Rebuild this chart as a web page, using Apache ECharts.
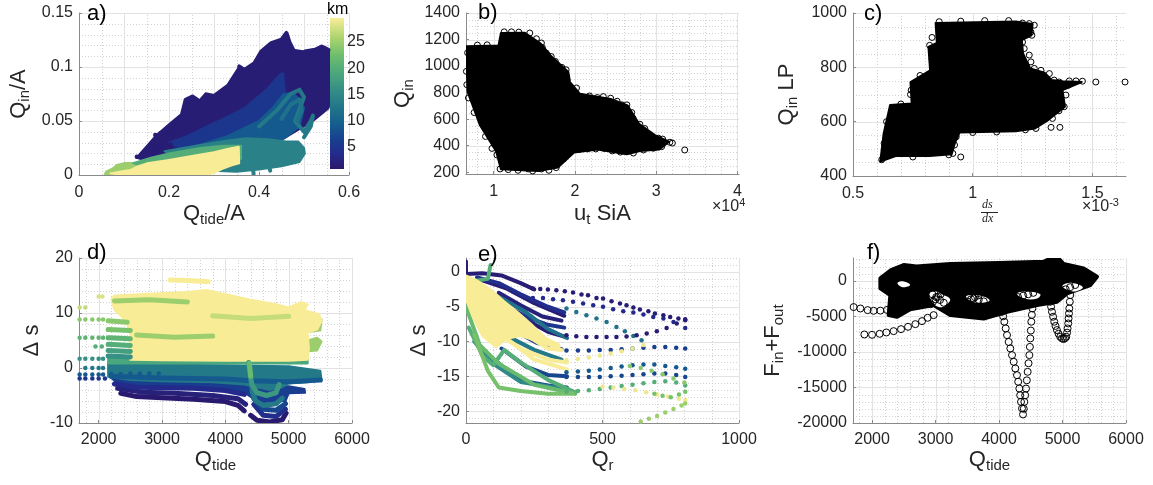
<!DOCTYPE html>
<html><head><meta charset="utf-8">
<script src="https://cdn.jsdelivr.net/npm/echarts@6/dist/echarts.min.js"></script>
<style>html,body{margin:0;padding:0;background:#fff}#c{width:1153px;height:485px}</style>
</head><body><div id="c"></div><script>
const FONT = '"Liberation Sans", Arial, Helvetica, sans-serif';
const TXT = '#262626';
const AX = '#8a8a8a';

// ---------- colour scale (km) ----------
const cbRange = [0.7, 29.6];
const cbTicks = [5, 10, 15, 20, 25];
const halineStops = [[0,'#2a186c'],[0.1,'#232b8c'],[0.2,'#17418f'],[0.3,'#155e8e'],[0.42,'#237889'],[0.52,'#348e86'],[0.63,'#4aa67d'],[0.75,'#6cbd6c'],[0.87,'#acd46e'],[1,'#fbed98']];

// ---------- panel a : Q_in/A vs Q_tide/A, coloured by km ----------
const aTicksX = [0, 0.2, 0.4, 0.6];
const aTicksY = [0, 0.05, 0.1, 0.15];
const aRegions = [
  {km:1.5, pts:[[0.128,0.016],[0.17,0.036],[0.2,0.047],[0.2295,0.0572],[0.237,0.0696],[0.252,0.0727],[0.2667,0.0687],[0.2817,0.0758],[0.30,0.0742],[0.33,0.0835],[0.356,0.1005],[0.3675,0.0974],[0.39,0.1036],[0.405,0.1144],[0.4274,0.1222],[0.4498,0.1253],[0.461,0.1315],[0.4684,0.1222],[0.476,0.116],[0.502,0.1144],[0.5244,0.116],[0.5394,0.119],[0.5544,0.116],[0.565,0.112],[0.565,0.075],[0.554,0.0617],[0.52,0.05],[0.46,0.035],[0.4,0.02],[0.33,0.008],[0.26,0.004],[0.2,0.01],[0.16,0.012]]},
  {km:5, pts:[[0.2,0.03],[0.2407,0.0359],[0.28,0.044],[0.315,0.051],[0.3675,0.0619],[0.42,0.0804],[0.446,0.0928],[0.4536,0.0943],[0.457,0.0773],[0.4423,0.0464],[0.42,0.036],[0.38,0.026],[0.3,0.02],[0.24,0.022]]},
  {km:9, pts:[[0.26,0.027],[0.33,0.036],[0.4,0.05],[0.43,0.062],[0.455,0.075],[0.475,0.076],[0.49,0.07],[0.5,0.062],[0.49,0.045],[0.46,0.035],[0.42,0.025],[0.35,0.018]]},
  {km:14, pts:[[0.19,0.022],[0.26,0.027],[0.33,0.032],[0.37,0.034],[0.42,0.033],[0.46,0.031],[0.487,0.031],[0.5,0.025],[0.502,0.02],[0.49,0.012],[0.45,0.008],[0.4,0.005],[0.35,0.003],[0.3,0.004],[0.26,0.008],[0.22,0.015]]},
  {km:25, pts:[[0.057,0.0],[0.06,0.003],[0.075,0.006],[0.084,0.0093],[0.1,0.011],[0.12,0.011],[0.14,0.012],[0.14,0.0]]},
  {km:20, pts:[[0.12,0.011],[0.16,0.016],[0.2,0.02],[0.24,0.023],[0.27,0.025],[0.32,0.027],[0.36,0.027],[0.36,0.015],[0.24,0.012],[0.14,0.008]]},
  {km:29.5, pts:[[0.07,0.0015],[0.09,0.003],[0.114,0.0046],[0.13,0.008],[0.151,0.0108],[0.2,0.014],[0.241,0.017],[0.3,0.021],[0.33,0.024],[0.355,0.0262],[0.356,0.0108],[0.34,0.009],[0.32,0.006],[0.3,0.002],[0.2855,0.0],[0.1,0.0]]}
];
const aLines = [
  {km:13, pts:[[0.40,0.045],[0.44,0.06],[0.47,0.075],[0.49,0.079],[0.5,0.072],[0.48,0.05],[0.5,0.04],[0.515,0.05],[0.52,0.055],[0.515,0.045],[0.5,0.035]]},
  {km:12, pts:[[0.45,0.052],[0.47,0.065],[0.49,0.07],[0.495,0.06],[0.485,0.05]]},
  {km:14, pts:[[0.385,0.012],[0.388,0.001]]},
  {km:14, pts:[[0.42,0.012],[0.425,0.004]]},
  {km:1.5, pts:[[0.2295,0.0572],[0.237,0.0696],[0.252,0.0727],[0.2667,0.0687],[0.258,0.063]]},
  {km:1.5, pts:[[0.356,0.1005],[0.3675,0.0974],[0.39,0.1036],[0.405,0.1144],[0.4274,0.1222],[0.4498,0.1253],[0.461,0.1315],[0.4684,0.1222],[0.476,0.116],[0.47,0.105]]},
  {km:1.5, pts:[[0.502,0.1144],[0.5244,0.116],[0.5394,0.119],[0.5544,0.116],[0.545,0.105]]}
];
const aDots = [[0.1286,0.017,1.5],[0.1398,0.0186,1.5],[0.151,0.0207,1.5],[0.1622,0.0223,1.5],[0.1735,0.0241,1.5],[0.1883,0.0263,1.5],[0.2033,0.0285,1.5],
  [0.1696,0.0371,1.5],[0.1808,0.0387,1.5],[0.192,0.0408,1.5],[0.2033,0.0427,1.5],[0.2145,0.0448,1.5]];

// ---------- panel b : Q_in vs u_t SiA (x in units of 1e4) ----------
const bTicksX = [1, 2, 3, 4];
const bTicksY = [200, 400, 600, 800, 1000, 1200, 1400];
const bCloud = [[0.663,1150],[1.06,1156],[1.09,1250],[1.38,1252],[1.43,1232],[1.58,1170],[1.70,1080],[1.92,955],[1.94,880],[2.06,792],[2.44,752],[2.65,703],[2.79,566],[2.99,478],[3.16,430],[3.04,372],[2.8,360],[2.64,336],[2.28,372],[1.99,348],[1.79,235],[1.55,210],[1.09,222],[1.03,358],[0.83,557],[0.68,805],[0.665,1060]];
const bEdge = [[1.445,1249],[1.527,1206],[1.588,1174],[1.648,1098],[1.709,1072],[1.892,972],[1.892,909],[1.993,796],[2.074,771],[2.277,763],[2.44,758],[2.58,708],[2.64,708],[2.48,632],[2.715,607],[2.80,562],[2.926,481],[3.027,457],[3.169,426],[3.068,393],[2.966,381],[2.844,368],[2.46,361],[2.257,376],[2.156,376],[1.953,419],[1.77,306],[1.77,235],[1.588,225],[1.426,225],[1.08,225],[1.04,331],[3.352,368],
  [1.13,1258],[1.22,1258],[1.31,1256],[1.60,1140],[1.76,1035],[1.84,990],[2.02,835],[2.18,775],[2.35,770],[2.52,735],[2.70,650],[2.86,530],[3.08,450],[3.20,420],[2.72,345],[2.56,352],[2.36,380],[2.05,372],[1.86,300],[1.68,215],[1.48,210],[1.30,215],[1.18,220],[0.98,380],[0.90,470],[0.76,650],[0.69,760],[0.67,860],[0.665,960],[0.68,1100],[0.80,1158],[0.92,1160]];

// ---------- panel c : Q_in LP vs ds/dx (x in units of 1e-3) ----------
const cTicksX = [0.5, 1, 1.5];
const cTicksY = [400, 600, 800, 1000];
const cCloud = [[0.845,963],[1.18,969],[1.25,960],[1.245,918],[1.205,900],[1.21,851],[1.24,796],[1.30,780],[1.33,753],[1.375,749],[1.455,746],[1.375,716],[1.385,655],[1.315,606],[1.26,575],[1.18,565],[0.945,560],[0.925,520],[0.912,480],[0.82,474],[0.681,474],[0.614,453],[0.628,557],[0.655,661],[0.745,667],[0.74,746],[0.822,789],[0.815,875],[0.85,890]];
const cEdge = [[1.208,963],[1.236,961],[1.257,955],[1.243,930],[1.247,918],[1.208,893],[1.215,869],[1.195,851],[1.236,845],[1.243,820],[1.257,796],[1.285,789],[1.32,777],[1.34,753],[1.361,746],[1.403,750],[1.431,750],[1.458,749],[1.514,746],[1.636,746],[1.389,698],[1.382,655],[1.333,612],[1.327,579],[1.364,579],[1.264,575],[0.931,544],[0.924,514],[0.917,483],[0.82,881],[0.743,716],
  [0.86,968],[0.95,970],[1.05,972],[1.15,972],[1.10,940],[1.30,700],[1.36,640],[1.22,570],[1.10,562],[1.00,560],[0.95,470],[0.90,478],[0.75,470],[0.62,460],[0.63,520],[0.64,600],[0.70,665],[0.74,700],[0.78,770],[0.83,830],[0.83,910],[0.90,880],[0.98,900],[1.40,735],[1.34,690]];

// ---------- panel d : Delta s vs Q_tide, coloured by km ----------
const dTicksX = [2000, 3000, 4000, 5000, 6000];
const dTicksY = [-10, 0, 10, 20];
const dRegions = [
  {km:6, pts:[[2200,-1.8],[2600,-2.2],[3200,-2.6],[3800,-2.8],[4300,-3.0],[4600,-3.2],[5000,-3.3],[5250,-3.8],[5260,-4.5],[5000,-4.6],[4950,-6.0],[4600,-6.2],[4450,-5.6],[4320,-4.6],[4000,-4.0],[3500,-3.8],[3000,-3.6],[2500,-3.4],[2300,-2.8]]},
  {km:13, pts:[[2150,1.0],[2500,0.8],[3000,0.6],[4000,0.5],[5000,0.3],[5500,-0.5],[5520,-2.2],[5300,-2.6],[5000,-2.8],[4900,-3.5],[4700,-4],[4500,-3.5],[4300,-3.0],[3800,-2.6],[3000,-2.4],[2500,-2.2],[2150,-1.6]]},
  {km:19, pts:[[2150,2.0],[5300,1.6],[5300,0.8],[2150,0.8]]},
  {km:25, pts:[[5250,3],[5450,3.2],[5520,4.8],[5450,5.5],[5300,5]]},
  {km:25, pts:[[5250,6.5],[5500,6.8],[5520,8.8],[5350,9.2],[5250,8]]},
  {km:29.5, pts:[[2250,13.2],[2800,13.5],[3400,13.8],[3700,14.2],[4100,13.2],[4400,12.4],[4800,11.6],[5000,11.0],[5200,12.0],[5300,11.5],[5250,10.5],[5480,9.8],[5520,8.5],[5450,7.0],[5300,6.5],[5320,3.5],[5300,1.5],[5000,1.3],[4000,1.3],[3000,1.4],[2500,1.5],[2480,3],[2500,6],[2450,8],[2350,9.5],[2250,10.5],[2200,12.5]]}
];
const dLines = [
  {km:1, pts:[[2350,-4.6],[2600,-5.2],[3000,-5.4],[3500,-5.7],[4000,-6.1],[4200,-6.8],[4300,-7.8]]},
  {km:1, pts:[[4400,-8.6],[4500,-9.5],[4700,-9.8],[4900,-9.4],[4960,-8.2]]},
  {km:2, pts:[[2300,-3.7],[2700,-4.4],[3200,-4.6],[3800,-5.0],[4200,-5.6],[4320,-6.6]]},
  {km:3.5, pts:[[2250,-2.9],[2600,-3.5],[3500,-3.7],[4000,-4.1],[4300,-4.8]]},
  {km:4, pts:[[4450,-6.6],[4600,-8.6],[4800,-8.8],[4950,-7.5]]},
  {km:7, pts:[[4450,-5.6],[4600,-7.5],[4800,-7.7],[4950,-6.5]]},
  {km:9, pts:[[2200,-1.5],[3000,-1.8],[4000,-2.0],[4400,-2.3],[5000,-2.5],[5500,-2.2]]},
  {km:13, pts:[[4380,0.5],[4400,-2],[4430,-4.5],[4480,-6],[4600,-6.8],[4800,-6.5],[4900,-5.5]]},
  {km:17, pts:[[4370,1],[4390,-1],[4420,-3],[4500,-4.5],[4650,-5],[4800,-4.5],[4850,-3]]},
  {km:22, pts:[[4380,0.8],[4400,-1.5]]},
  {km:16, pts:[[2150,2.2],[2500,2.0]]},
  {km:18, pts:[[2150,3.2],[2500,3.0]]},
  {km:20, pts:[[2150,4.3],[2500,4.1]]},
  {km:21, pts:[[2150,5.5],[2500,5.3]]},
  {km:23, pts:[[2150,7.0],[2500,6.8]]},
  {km:24, pts:[[2150,8.6],[2450,8.3]]},
  {km:29.5, pts:[[3130,16],[3400,15.9],[3730,15.7]]},
  {km:25, pts:[[2250,12.2],[2800,12.4],[3400,12.0]]},
  {km:25, pts:[[2600,6.0],[3200,5.6],[3800,5.8]]},
  {km:27, pts:[[3800,9.5],[4400,9.0],[5000,9.4]]}
];
const dDots = [
  [1700,11,27],[1790,11,27],[2000,13,28],[2060,13,28],
  [1700,8.8,24],[1790,8.8,24],[1900,8.8,24],[2000,8.8,24],[2070,8.8,24],
  [1700,5.5,21],[1790,5.5,21],[1900,5.5,21],[2000,5.5,21],[2070,5.5,21],
  [1950,3.9,20],[2050,3.9,20],
  [1700,1.7,16],[1790,1.7,16],[1900,1.7,16],[2000,1.7,16],[2070,1.7,16],
  [1790,0,13],[1900,0,13],[2000,0,13],[2070,0,13],
  [1700,-1.2,9],[1790,-1.2,9],[1900,-1.2,9],[2000,-1.2,9],[2070,-1.2,9],[2200,-1.1,9],[2350,-1.1,9],[2500,-1.0,9],[2650,-1.0,9],[2800,-1.0,9],[2950,-1.0,9],
  [1700,-1.9,5],[1790,-1.9,5],[1900,-1.9,5],[2000,-1.9,5],[2100,-1.9,5]
];

// ---------- panel e : Delta s vs Q_r, coloured by km ----------
const eTicksX = [0, 500, 1000];
const eTicksY = [-20, -15, -10, -5, 0];
const eRegions = [
  {km:29.5, pts:[[0,-0.5],[40,-1.2],[90,-2.5],[140,-4.2],[190,-5.8],[240,-7.5],[290,-9.4],[340,-10.4],[345,-11.2],[280,-10.2],[200,-9.2],[150,-9.6],[110,-10.8],[60,-9.2],[25,-6.5],[0,-4]]}
];
const eLines = [
  {km:1.5, pts:[[0,1.5],[0,-0.3],[60,-0.2],[130,-0.5],[200,-1.6],[250,-2.5]]},
  {km:1.5, pts:[[60,-1.2],[150,-2.4],[250,-4.5],[330,-5.8],[360,-6.3]]},
  {km:2, pts:[[120,-3],[200,-4.8],[280,-6.4],[350,-7.0]]},
  {km:1.5, pts:[[180,-6.2],[250,-7.5],[300,-8.6],[360,-9.3]]},
  {km:4, pts:[[40,-0.8],[120,-1.6],[200,-3.2],[300,-5.0],[360,-5.8]]},
  {km:5, pts:[[150,-5],[230,-6.6],[300,-7.6],[360,-8]]},
  {km:6, pts:[[180,-8.5],[260,-10.2],[350,-11.1]]},
  {km:7, pts:[[130,-11],[220,-13.6],[300,-14.8],[370,-15.0]]},
  {km:8, pts:[[100,-12.5],[200,-15.6],[300,-16.3],[370,-16.6]]},
  {km:12, pts:[[60,-2.5],[140,-4],[220,-5.8],[300,-8.2],[370,-9.5]]},
  {km:13, pts:[[80,-7],[160,-9.4],[250,-11.2],[350,-12.6]]},
  {km:15, pts:[[30,-10],[100,-13.2],[200,-15.8],[370,-16.9]]},
  {km:20, pts:[[10,-8],[60,-12],[100,-13.4],[140,-11.2],[200,-13],[300,-15.5],[400,-17.3]]},
  {km:22, pts:[[0,-5],[50,-10.5],[120,-13.2],[250,-16.2],[400,-17.5]]},
  {km:20, pts:[[0,-1.5],[80,-1],[90,1]]},
  {km:23, pts:[[30,-9],[80,-14.2],[120,-16.6],[200,-17.1],[300,-17.5],[390,-17.5]]},
  {km:29.5, pts:[[60,-6.5],[150,-9.6],[250,-12.6],[370,-14.0]]},
  {km:29.5, pts:[[100,-8.5],[200,-11],[300,-12.6],[370,-13.0]]},
  {km:29.5, pts:[[0,-1],[100,-7],[200,-8.6],[300,-11],[350,-11.2]]}
];
const eDotRows = [
  {km:1.5, x:[245,272,300,331,362,392,423,447,478,502,533,564,588,613,637,668,692,723,748,778,803], y:[-2.39,-2.44,-2.53,-2.63,-2.77,-2.97,-3.25,-3.35,-3.73,-3.83,-4.21,-4.55,-4.78,-5.12,-5.41,-5.65,-5.98,-6.22,-6.46,-6.70,-6.79]},
  {km:3.5, x:[245,282,319,355,392,429,466,502,539,576,613,650,686,723,760,803], y:[-3.73,-3.73,-3.92,-4.07,-4.3,-4.55,-4.78,-5.02,-5.36,-5.65,-5.84,-6.12,-6.46,-6.7,-7.18,-8.04]},
  {km:12, x:[368,404,441,478,515,551,582,613,643], y:[-5.26,-5.74,-6.22,-6.70,-7.18,-7.9,-8.52,-9.19,-9.81]},
  {km:1.5, x:[368,404,441,478,515,551,588,625,662,699,735,772,803], y:[-9.09,-9.24,-9.33,-9.33,-9.33,-9.33,-9.28,-9.09,-8.85,-8.52,-8.04,-7.42,-6.94]},
  {km:6, x:[368,410,450,490,530,570,610,650,690,730,770,803], y:[-11.3,-11.3,-11.3,-11.2,-11.2,-11.1,-11.0,-10.9,-10.8,-10.8,-10.9,-11.0]},
  {km:9, x:[368,410,450,490,530,570,610,650,690,730,770,803], y:[-14.4,-14.3,-14.2,-14.0,-13.8,-13.6,-13.4,-13.3,-13.3,-13.5,-13.7,-13.9]},
  {km:7, x:[368,410,450,490,530,570,610,650,690,730,770,803], y:[-15.1,-15.1,-15.1,-15.1,-15.0,-14.9,-14.8,-14.7,-14.6,-14.6,-14.8,-15.1]},
  {km:20, x:[368,410,450,490,530,570,610,650,690,730,770,803], y:[-17.2,-17.1,-17.0,-16.8,-16.6,-16.4,-16.2,-16.0,-15.8,-15.7,-15.9,-16.3]},
  {km:29, x:[368,410,450,490,530,570,610,650], y:[-12.7,-12.5,-12.3,-12.0,-11.7,-11.4,-11.0,-10.5]},
  {km:29, x:[500,540,580,620,660,700,740,780,803], y:[-16.5,-16.6,-16.8,-17.0,-17.3,-17.6,-17.9,-18.2,-18.4]},
  {km:25, x:[640,670,700,730,760,790,803], y:[-21.5,-21.1,-20.7,-20.2,-19.7,-19.2,-18.9]},
  {km:24, x:[600,640,680,720,760,800], y:[-13.5,-13.8,-14.2,-14.7,-15.3,-15.9]},
  {km:23, x:[690,720,750,780,803], y:[-17.5,-17.8,-18.0,-17.6,-17.2]}
];

// ---------- panel f : F_in+F_out vs Q_tide ----------
const fTicksX = [2000, 3000, 4000, 5000, 6000];
const fTicksY = [-20000, -15000, -10000, -5000, 0];
const fBlob = [[2131,338],[2300,1500],[2498,2211],[2700,2000],[3233,2352],[4000,2500],[4702,2680],[4780,3000],[4860,3250],[4950,3000],[5017,2352],[5332,1737],[5543,568],[5438,-606],[5070,-1780],[4913,-2953],[4598,-3423],[4126,-4362],[3758,-5300],[3233,-4831],[2970,-3423],[2600,-4000],[2394,-5066],[2262,-4831],[2288,-2014],[2131,-1070]];
const fHoles = [
  [[2900,-1800],[3000,-1500],[3100,-1900],[3230,-2600],[3150,-3500],[3050,-3700],[2950,-3000]],
  [[3480,-2200],[3600,-2000],[3780,-2300],[3850,-2800],[3700,-3100],[3550,-2800]],
  [[4280,-1800],[4450,-1500],[4650,-1900],[4600,-2500],[4400,-2500]],
  [[5000,-700],[5150,-300],[5320,-900],[5200,-1500],[5080,-1300]],
  [[2400,-300],[2500,-100],[2600,-600],[2480,-900]]
];
const fHatch = [[2920,-3300],[2960,-2950],[3000,-2600],[3040,-2250],[3080,-1900],[2950,-1900],[3010,-2300],[3070,-2700],[3130,-3100],
  [3500,-2900],[3560,-2600],[3620,-2300],[3680,-2050],[3600,-2500],[3680,-2700],[3760,-2900],
  [4300,-2300],[4380,-2100],[4460,-1900],[4540,-1700],[5050,-1200],[5120,-900],[5200,-600]];
const fDip1 = [[4047,-4366],[4065,-5000],[4084,-5761],[4105,-6700],[4126,-7638],[4152,-8600],[4178,-9516],[4205,-10450],[4231,-11394],[4257,-12330],[4283,-13272],[4302,-14200],[4320,-15150],[4333,-16100],[4346,-17028],[4362,-17950],[4378,-18800],[4390,-18000],[4399,-17028],[4412,-16100],[4425,-15150],[4438,-14000],[4451,-12803],[4465,-11600],[4478,-10455],[4486,-9300],[4493,-8108],[4501,-7000],[4509,-5761],[4517,-4800],[4525,-3896]];
const fDip2 = [[4808,-2953],[4820,-3650],[4834,-4366],[4852,-5060],[4870,-5761],[4890,-6350],[4912,-6934],[4938,-7450],[4964,-7873],[4990,-8100],[5017,-8200],[5040,-8080],[5059,-7873],[5072,-7300],[5080,-6700],[5090,-6000],[5096,-5300],[5102,-4600],[5107,-3896],[5115,-2950],[5122,-2014]];
const fTrail1 = [[1710,-3700],[1816,-3900],[1931,-4130],[2025,-4225],[2131,-4200],[2236,-4100],[2340,-3990]];
const fTrail2 = [[1879,-7553],[2000,-7600],[2120,-7460],[2225,-7272],[2340,-7084],[2457,-6803],[2567,-6474],[2682,-6099],[2787,-5676],[2876,-5206],[2970,-4831]];

// ---------- helpers ----------
function hex(h){return [parseInt(h.slice(1,3),16),parseInt(h.slice(3,5),16),parseInt(h.slice(5,7),16)];}
function kmColor(km){
  let t=(km-cbRange[0])/(cbRange[1]-cbRange[0]); t=Math.max(0,Math.min(1,t));
  for(let i=1;i<halineStops.length;i++){
    if(t<=halineStops[i][0]){
      const a=halineStops[i-1],b=halineStops[i],f=(t-a[0])/(b[0]-a[0]);
      const ca=hex(a[1]),cb=hex(b[1]);
      return 'rgb('+ca.map((v,k)=>Math.round(v+(cb[k]-v)*f)).join(',')+')';
    }
  }
  return halineStops[halineStops.length-1][1];
}
function steps(a,b,s,skip){const out=[];for(let v=a;v<=b+1e-9;v+=s){const r=Math.round(v*1e6)/1e6;if(!skip.some(m=>Math.abs(m-r)<1e-9))out.push(r);}return out;}

const panels = [
  {g:{left:79,top:13,width:270,height:162}, xr:[0,0.6], yr:[0,0.15], tx:aTicksX, ty:aTicksY,
   majX:[0.1,0.2,0.3,0.4,0.5,0.6], minX:steps(0.05,0.55,0.1,[]), majY:[0.05,0.1,0.15], minY:steps(0.01,0.14,0.01,[0.05,0.1])},
  {g:{left:466,top:13,width:273,height:161}, xr:[0.66,4.02], yr:[187,1400], tx:bTicksX, ty:bTicksY,
   majX:[1,2,3,4], minX:steps(0.8,3.8,0.2,[1,2,3]), majY:[400,600,800,1000,1200,1400], minY:steps(250,1350,50,[400,600,800,1000,1200])},
  {g:{left:853,top:13,width:273,height:163}, xr:[0.5,1.64], yr:[400,1000], tx:cTicksX, ty:cTicksY,
   majX:[1,1.5], minX:steps(0.6,1.6,0.1,[1,1.5]), majY:[600,800,1000], minY:steps(450,950,50,[600,800])},
  {g:{left:79,top:258,width:273,height:165}, xr:[1690,6000], yr:[-10,20], tx:dTicksX, ty:dTicksY,
   majX:[2000,3000,4000,5000,6000], minX:steps(1800,5800,200,[2000,3000,4000,5000]), majY:[0,10,20], minY:steps(-8,18,2,[0,10])},
  {g:{left:466,top:258,width:273,height:165}, xr:[0,1000], yr:[-21.7,2], tx:eTicksX, ty:eTicksY,
   majX:[500,1000], minX:steps(100,900,100,[500]), majY:[-20,-15,-10,-5,0], minY:steps(-21,2,1,[-20,-15,-10,-5,0])},
  {g:{left:853,top:258,width:273,height:165}, xr:[1700,6000], yr:[-20000,3200], tx:fTicksX, ty:fTicksY,
   majX:[2000,3000,4000,5000,6000], minX:steps(1800,5800,200,[2000,3000,4000,5000]), majY:[-15000,-10000,-5000,0], minY:steps(-19000,3000,1000,[-15000,-10000,-5000,0])}
];

const MAJ = {stroke:'#e2e2e2', lineWidth:1};
const MIN = {stroke:'#d2d2d2', lineWidth:1, lineDash:[1,2]};

function gridSeries(gi){
  const P=panels[gi];
  return {type:'custom', xAxisIndex:gi, yAxisIndex:gi, z:0, silent:true, clip:false, animation:false,
    data:[[P.xr[0],P.yr[0]]],
    renderItem:(params,api)=>{
      const ch=[];
      const addX=(vals,st)=>vals.forEach(v=>{const p1=api.coord([v,P.yr[0]]),p2=api.coord([v,P.yr[1]]);const x=Math.round(p1[0])+0.5;ch.push({type:'line',shape:{x1:x,y1:p1[1],x2:x,y2:p2[1]},style:st});});
      const addY=(vals,st)=>vals.forEach(v=>{const p1=api.coord([P.xr[0],v]),p2=api.coord([P.xr[1],v]);const y=Math.round(p1[1])+0.5;ch.push({type:'line',shape:{x1:p1[0],y1:y,x2:p2[0],y2:y},style:st});});
      addX(P.minX,MIN); addY(P.minY,MIN); addX(P.majX,MAJ); addY(P.majY,MAJ);
      return {type:'group',children:ch};
    }};
}
function regionSeries(gi, regs, colorOf, lw, z){
  return {type:'custom', xAxisIndex:gi, yAxisIndex:gi, z:z||2, silent:true, clip:true, animation:false,
    data:regs.map(r=>r.pts[0]),
    renderItem:(params,api)=>{
      const r=regs[params.dataIndex]; const c=colorOf(r);
      return {type:'polygon',shape:{points:r.pts.map(p=>api.coord(p)),smooth:r.smooth||0},style:{fill:c,stroke:c,lineWidth:lw,lineJoin:'round'}};
    }};
}
function lineSeries(gi, lines, w, z){
  return {type:'custom', xAxisIndex:gi, yAxisIndex:gi, z:z||3, silent:true, clip:true, animation:false,
    data:lines.map(l=>l.pts[0]),
    renderItem:(params,api)=>{
      const l=lines[params.dataIndex];
      return {type:'polyline',shape:{points:l.pts.map(p=>api.coord(p))},style:{stroke:kmColor(l.km),lineWidth:w,lineCap:'round',lineJoin:'round',fill:null}};
    }};
}
function dotSeries(gi, data, size){
  return {type:'scatter', xAxisIndex:gi, yAxisIndex:gi, z:4, silent:true, animation:false, symbolSize:size,
    data:data, itemStyle:{color:p=>kmColor(p.data[2]), opacity:1}};
}
function ringSeries(gi, data, size, z){
  return {type:'scatter', xAxisIndex:gi, yAxisIndex:gi, z:z||4, silent:true, animation:false, symbolSize:size,
    data:data, itemStyle:{color:'rgba(0,0,0,0)', borderColor:'#000', borderWidth:1, opacity:1}};
}

const rich = {
  m:{fontSize:22, fontFamily:FONT, color:TXT},
  s:{fontSize:15, fontFamily:FONT, color:TXT, padding:[11,0,0,0]}
};
const names = [
  {x:'{m|Q}{s|tide}{m|/A}', y:'{m|Q}{s|in}{m|/A}', xg:26, yg:47},
  {x:'{m|u}{s|t}{m| SiA}', y:'{m|Q}{s|in}', xg:27, yg:50},
  {x:'', y:'{m|Q}{s|in}{m| LP}', xg:27, yg:53},
  {x:'{m|Q}{s|tide}', y:'{m|Δ s}', xg:14, yg:36},
  {x:'{m|Q}{s|r}', y:'{m|Δ s}', xg:22, yg:36},
  {x:'{m|Q}{s|tide}', y:'{m|F}{s|in}{m|+F}{s|out}', xg:14, yg:67}
];

const grid=[], xAxis=[], yAxis=[];
panels.forEach((P,i)=>{
  grid.push(Object.assign({containLabel:false}, P.g));
  xAxis.push({type:'value', gridIndex:i, min:P.xr[0], max:P.xr[1],
    name:names[i].x, nameLocation:'middle', nameGap:names[i].xg, nameTextStyle:{rich:rich, fontSize:22, color:TXT, fontFamily:FONT},
    axisLine:{show:true, onZero:false, lineStyle:{color:AX,width:1}},
    axisTick:{show:true, inside:true, length:3, customValues:P.tx, lineStyle:{color:AX}},
    axisLabel:{customValues:P.tx, formatter:v=>String(v), color:TXT, fontSize:16, fontFamily:FONT, margin:i<3?10:9},
    splitLine:{show:false}});
  yAxis.push({type:'value', gridIndex:i, min:P.yr[0], max:P.yr[1],
    name:names[i].y, nameLocation:'middle', nameGap:names[i].yg, nameRotate:90, nameTextStyle:{rich:rich, fontSize:22, color:TXT, fontFamily:FONT},
    axisLine:{show:true, onZero:false, lineStyle:{color:AX,width:1}},
    axisTick:{show:true, inside:true, length:3, customValues:P.ty, lineStyle:{color:AX}},
    axisLabel:{customValues:P.ty, formatter:v=>String(v), color:TXT, fontSize:16, fontFamily:FONT, margin:6},
    splitLine:{show:false}});
});
// colour bar axes
grid.push({left:330, top:18, width:14, height:151});
xAxis.push({type:'value', gridIndex:6, min:0, max:1, show:false});
yAxis.push({type:'value', gridIndex:6, min:cbRange[0], max:cbRange[1], position:'right',
  axisLine:{show:false}, axisTick:{show:false}, splitLine:{show:false},
  axisLabel:{customValues:cbTicks, color:TXT, fontSize:16, fontFamily:FONT, margin:3}});

const series = [];
for(let i=0;i<6;i++) series.push(gridSeries(i));
const kmFill = r=>kmColor(r.km);
// a
series.push(regionSeries(0, aRegions, kmFill, 2));
series.push(lineSeries(0, aLines, 4));
series.push(dotSeries(0, aDots, 4.5));
// b
series.push(regionSeries(1, [{pts:bCloud}], ()=>'#000', 2));
series.push(ringSeries(1, bEdge, 6));
// c
series.push(regionSeries(2, [{pts:cCloud}], ()=>'#000', 2));
series.push(ringSeries(2, cEdge, 6));
// d
series.push(dotSeries(3, dDots, 4.5));
series.push(regionSeries(3, dRegions, kmFill, 2, 2));
series.push(lineSeries(3, dLines, 5, 3));
// e
series.push(dotSeries(4, eDotRows.flatMap(r=>r.x.map((x,k)=>[x,r.y[k],r.km])), 4.5));
series.push(lineSeries(4, eLines, 4, 3));
series.push(regionSeries(4, eRegions, kmFill, 2, 4));
// f
series.push(regionSeries(5, [{pts:fBlob}], ()=>'#000', 4, 2));
series.push(regionSeries(5, fHoles.map(p=>({pts:p, smooth:0.4})), ()=>'#fff', 0, 3));
series.push(ringSeries(5, fHatch, 7, 4));
series.push(ringSeries(5, fDip1, 7, 4));
series.push(ringSeries(5, fDip2, 7, 4));
series.push(ringSeries(5, fTrail1, 7, 4));
series.push(ringSeries(5, fTrail2, 7, 4));
// colour bar
series.push({type:'custom', xAxisIndex:6, yAxisIndex:6, silent:true, animation:false, data:[[0,cbRange[0]]],
  renderItem:(params,api)=>{
    const p1=api.coord([0,cbRange[1]]), p2=api.coord([1,cbRange[0]]);
    return {type:'rect', shape:{x:p1[0],y:p1[1],width:p2[0]-p1[0],height:p2[1]-p1[1]},
      style:{fill:{type:'linear',x:0,y:0,x2:0,y2:1,colorStops:halineStops.map(s=>({offset:1-s[0],color:s[1]})).reverse()}}};
  }});

const tstyle = {fontSize:22, fontWeight:'normal', color:'#000', fontFamily:FONT};
const expRich = {a:{fontSize:16,fontWeight:'normal',color:TXT,fontFamily:FONT},b:{fontSize:11,fontWeight:'normal',color:TXT,fontFamily:FONT,padding:[0,0,9,0]}};
const title = [
  {text:'a)', left:87, top:3, padding:0, textStyle:tstyle},
  {text:'b)', left:478, top:2, padding:0, textStyle:tstyle},
  {text:'c)', left:864, top:3, padding:0, textStyle:tstyle},
  {text:'d)', left:87, top:242, padding:0, textStyle:tstyle},
  {text:'e)', left:478, top:244, padding:0, textStyle:tstyle},
  {text:'f)', left:867, top:242, padding:0, textStyle:tstyle},
  {text:'km', left:327, top:2, padding:0, textStyle:{fontSize:16, fontWeight:'normal', color:'#000', fontFamily:FONT}},
  {text:'{a|×10}{b|4}', left:712, top:197, padding:0, textStyle:{fontWeight:'normal', rich:expRich}},
  {text:'{a|×10}{b|-3}', left:1082, top:197, padding:0, textStyle:{fontWeight:'normal', rich:expRich}}
];
const serif = '"Liberation Serif", "DejaVu Serif", serif';
const graphic = [
  {type:'text', left:982, top:199, style:{text:'ds', font:'italic 12px '+serif, fill:TXT}},
  {type:'line', shape:{x1:981, y1:212.5, x2:998, y2:212.5}, style:{stroke:TXT, lineWidth:1}},
  {type:'text', left:982, top:213, style:{text:'dx', font:'italic 12px '+serif, fill:TXT}}
];

const chart = echarts.init(document.getElementById('c'), null, {renderer:'canvas'});
chart.setOption({animation:false, backgroundColor:'#fff', title, grid, xAxis, yAxis, series, graphic});
</script></body></html>
